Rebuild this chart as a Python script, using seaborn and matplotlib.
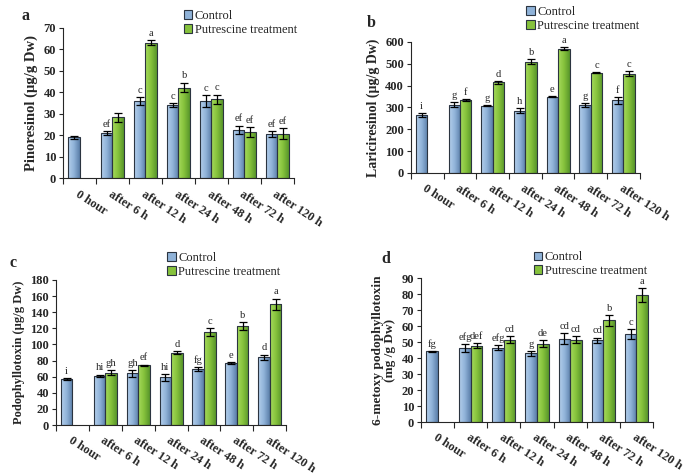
import matplotlib
matplotlib.use("Agg")
import matplotlib.pyplot as plt
from matplotlib.colors import LinearSegmentedColormap
from matplotlib.patches import Patch
import numpy as np
import pandas as pd
import seaborn as sns

sns.set_theme(style="ticks")
plt.rcParams["font.family"] = ["Liberation Serif", "DejaVu Serif"]

times = ["0 hour", "after 6 h", "after 12 h", "after 24 h",
         "after 48 h", "after 72 h", "after 120 h"]
groups = ["Control", "Putrescine treatment"]

# panel a - pinoresinol
pino_ctrl = [19.0, 21.0, 36.0, 34.0, 36.0, 22.5, 20.5]
pino_ctrl_err = [0.5, 1.0, 1.7, 0.8, 2.7, 2.0, 1.3]
pino_trt = [np.nan, 28.3, 63.0, 42.2, 36.7, 21.5, 20.7]
pino_trt_err = [np.nan, 2.2, 1.2, 2.3, 2.2, 2.3, 2.5]
pino_ctrl_lbl = ["", "ef", "c", "c", "c", "ef", "ef"]
pino_trt_lbl = ["", "", "a", "b", "c", "ef", "ef"]

# panel b - lariciresinol
lari_ctrl = [265, 313, 308, 285, 350, 310, 333]
lari_ctrl_err = [10, 12, 3, 12, 4, 10, 15]
lari_trt = [np.nan, 335, 415, 510, 570, 460, 455]
lari_trt_err = [np.nan, 4, 6, 12, 8, 3, 10]
lari_ctrl_lbl = ["i", "g", "g", "h", "e", "g", "f"]
lari_trt_lbl = ["", "f", "d", "b", "a", "c", "c"]

# panel c - podophyllotoxin
podo_ctrl = [57, 61, 64, 59, 69, 77, 84]
podo_ctrl_err = [1, 1.5, 4, 4, 2.5, 1, 3.5]
podo_trt = [np.nan, 65, 74, 90, 115, 123, 150]
podo_trt_err = [np.nan, 3, 1, 1.5, 5, 5, 7]
podo_ctrl_lbl = ["i", "hi", "gh", "hi", "fg", "e", "d"]
podo_trt_lbl = ["", "gh", "ef", "d", "c", "b", "a"]

# panel d - 6-metoxy podophyllotoxin
mpt_ctrl = [44.3, 46.0, 46.5, 43.0, 52.0, 51.0, 55.0]
mpt_ctrl_err = [0.3, 2.5, 1.5, 1.5, 3.5, 1.8, 3.0]
mpt_trt = [np.nan, 47.8, 51.5, 49.0, 51.5, 63.5, 79.5]
mpt_trt_err = [np.nan, 1.8, 2.2, 2.0, 2.2, 3.5, 4.3]
mpt_ctrl_lbl = ["fg", "efg", "efg", "g", "cd", "cd", "c"]
mpt_trt_lbl = ["", "def", "cd", "de", "cd", "b", "a"]

BLUE_CMAP = LinearSegmentedColormap.from_list("b", ["#b4d0ec", "#8fb2d8", "#5a7ea8"])
GREEN_CMAP = LinearSegmentedColormap.from_list("g", ["#a6dc5c", "#86c23c", "#58962a"])
EDGE = "#2b3440"

panels = [
    dict(letter="a", ctrl=pino_ctrl, ce=pino_ctrl_err, trt=pino_trt, te=pino_trt_err,
         cl=pino_ctrl_lbl, tl=pino_trt_lbl, ylabel="Pinoresinol (µg/g Dw)", ysize=10.5,
         ymax=70, step=10, rect=[0.092, 0.6254, 0.337, 0.3164],
         letter_xy=(0.032, 0.967), leg_xy=(0.268, 0.979)),
    dict(letter="b", ctrl=lari_ctrl, ce=lari_ctrl_err, trt=lari_trt, te=lari_trt_err,
         cl=lari_ctrl_lbl, tl=lari_trt_lbl, ylabel="Lariciresinol (µg/g Dw)", ysize=10,
         ymax=600, step=100, rect=[0.600, 0.6366, 0.334, 0.2752],
         letter_xy=(0.536, 0.952), leg_xy=(0.768, 0.987)),
    dict(letter="c", ctrl=podo_ctrl, ce=podo_ctrl_err, trt=podo_trt, te=podo_trt_err,
         cl=podo_ctrl_lbl, tl=podo_trt_lbl, ylabel="Podophyllotoxin (µg/g Dw)", ysize=9,
         ymax=180, step=20, rect=[0.0818, 0.1071, 0.336, 0.3047],
         letter_xy=(0.014, 0.448), leg_xy=(0.244, 0.471)),
    dict(letter="d", ctrl=mpt_ctrl, ce=mpt_ctrl_err, trt=mpt_trt, te=mpt_trt_err,
         cl=mpt_ctrl_lbl, tl=mpt_trt_lbl, ylabel="6-metoxy podophyllotoxin\n(mg /g Dw)",
         ysize=9.6, ymax=90, step=10, rect=[0.6146, 0.1134, 0.3387, 0.3025],
         letter_xy=(0.557, 0.455), leg_xy=(0.779, 0.472)),
]

fig = plt.figure(figsize=(6.85, 4.76), dpi=100)

for p in panels:
    ax = fig.add_axes(p["rect"])
    df = pd.DataFrame({
        "time": times * 2,
        "group": [groups[0]] * 7 + [groups[1]] * 7,
        "value": list(p["ctrl"]) + list(p["trt"]),
    })
    sns.barplot(data=df, x="time", y="value", hue="group", order=times,
                hue_order=groups, errorbar=None, width=0.7, gap=0,
                palette=["#8fb2d8", "#86c23c"], edgecolor=EDGE, linewidth=0.8,
                legend=False, ax=ax)

    errs = [p["ce"], p["te"]]
    lbls = [p["cl"], p["tl"]]
    vals = [p["ctrl"], p["trt"]]
    cmaps = [BLUE_CMAP, GREEN_CMAP]
    grad = np.linspace(0, 1, 64).reshape(1, -1)
    bar_conts = list(ax.containers)
    for gi, cont in enumerate(bar_conts):
        for bar in cont:
            h = bar.get_height()
            if not np.isfinite(h) or h == 0:
                continue
            x0, w = bar.get_x(), bar.get_width()
            xc = x0 + w / 2
            ci = int(round(xc))
            # gradient fill clipped to the bar
            im = ax.imshow(grad, extent=[x0, x0 + w, 0, h], aspect="auto",
                           cmap=cmaps[gi], zorder=bar.get_zorder(),
                           interpolation="bilinear")
            im.set_clip_path(bar)
            bar.set_facecolor("none")
            bar.set_zorder(bar.get_zorder() + 0.1)
            e = errs[gi][ci]
            ax.errorbar(xc, vals[gi][ci], yerr=e, color="black", capsize=3,
                        elinewidth=0.9, capthick=0.9, zorder=5)
            if lbls[gi][ci]:
                ax.text(xc, vals[gi][ci] + e + p["ymax"] * 0.015, lbls[gi][ci],
                        ha="center", va="bottom", fontsize=7.6, zorder=6)

    ax.set_xlim(-0.5, 6.5)
    ax.set_ylim(0, p["ymax"])
    ax.set_yticks(np.arange(0, p["ymax"] + p["step"] / 2, p["step"]))
    ax.set_xticks(range(len(times)))
    ax.set_xticklabels(times, rotation=-33, ha="left", va="top",
                       rotation_mode="anchor", fontweight="bold", fontsize=8.8)
    ax.set_xticks(np.arange(-0.5, 7, 1), minor=True)
    ax.tick_params(axis="x", which="major", length=0, pad=7)
    ax.tick_params(axis="x", which="minor", length=4, width=0.8, direction="out")
    ax.tick_params(axis="y", length=3, width=0.8, labelsize=9, pad=2)
    for t in ax.get_yticklabels():
        t.set_fontweight("bold")
    ax.set_xlabel("")
    ax.set_ylabel(p["ylabel"], fontsize=p["ysize"], fontweight="bold", labelpad=4,
                  linespacing=1.0)
    sns.despine(ax=ax)
    for s in ("left", "bottom"):
        ax.spines[s].set_linewidth(0.8)

    fig.text(*p["letter_xy"], p["letter"], fontsize=11.5, fontweight="bold",
             ha="left", va="center")
    handles = [Patch(facecolor="#8fb2d8", edgecolor=EDGE, linewidth=0.8),
               Patch(facecolor="#86c23c", edgecolor=EDGE, linewidth=0.8)]
    fig.legend(handles, groups, loc="upper left", bbox_to_anchor=p["leg_xy"],
               frameon=False, fontsize=9, handlelength=0.7, handleheight=0.7,
               handletextpad=0.2, labelspacing=0.15, borderpad=0,
               borderaxespad=0)

fig.savefig("out.png", dpi=100)
